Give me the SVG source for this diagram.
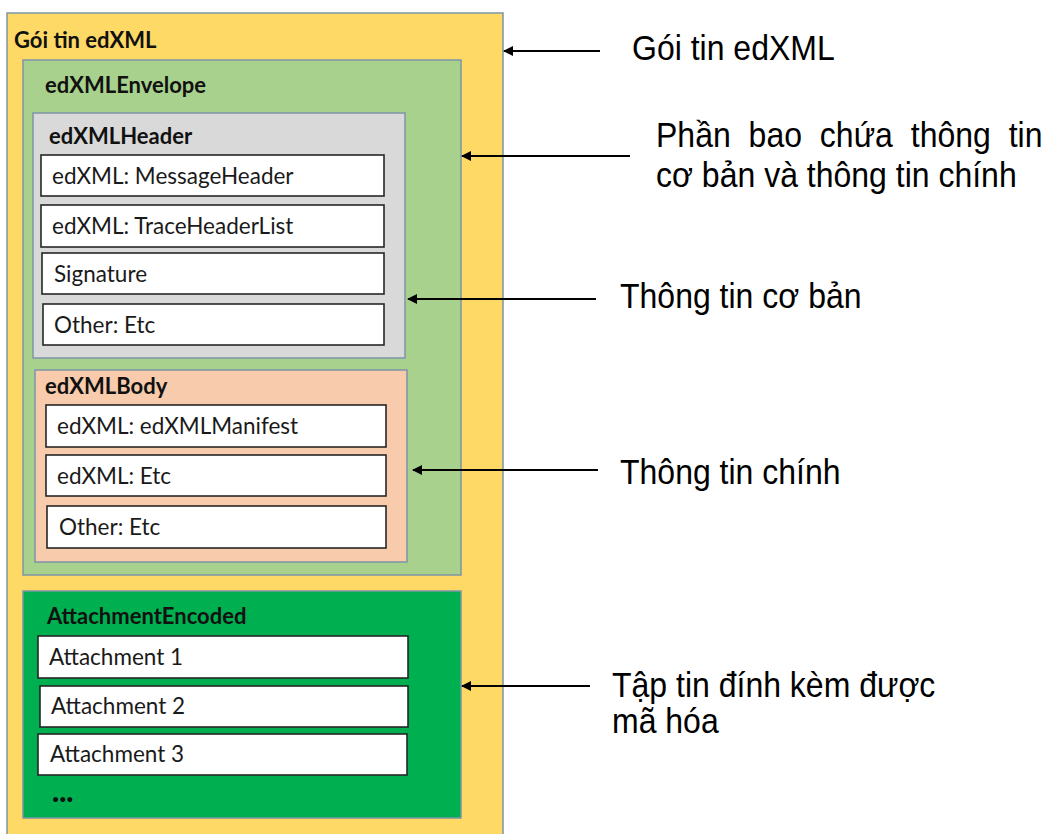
<svg xmlns="http://www.w3.org/2000/svg" width="1043" height="834" viewBox="0 0 1043 834">
<defs>
<style>
.cont{stroke:#7d95a6;stroke-width:1.5}
.item{fill:#ffffff;stroke:#262626;stroke-width:1.6}
.title{font-family:Lato,"Open Sans",sans-serif;font-weight:bold;font-size:22px;fill:#111}
.lbl{font-family:Lato,"Open Sans",sans-serif;font-size:22.5px;fill:#1a1a1a}
.note{font-family:"Liberation Sans",Arial,sans-serif;font-size:32px;fill:#000}
.conn{stroke:#000;stroke-width:2;fill:none;marker-end:url(#ah)}
</style>
<marker id="ah" viewBox="0 0 10 10" refX="9" refY="5" markerWidth="5" markerHeight="5" orient="auto" markerUnits="strokeWidth">
<path d="M0,0 L10,5 L0,10 Z" fill="#000"/>
</marker>
</defs>
<rect width="1043" height="834" fill="#ffffff"/>
<g id="goi-tin">
<rect class="cont" x="7" y="13" width="496" height="824" fill="#ffd966"/>
<text class="title" x="14" y="48">Gói tin edXML</text>
</g>
<g id="envelope">
<rect class="cont" x="23" y="60" width="438" height="515" fill="#a9d18e"/>
<text class="title" x="45" y="93">edXMLEnvelope</text>
</g>
<g id="header">
<rect class="cont" x="33" y="113" width="372" height="245" fill="#d9d9d9"/>
<text class="title" x="49" y="144">edXMLHeader</text>
</g>
<g id="h-msg"><rect class="item" x="41" y="155" width="343" height="41"/><text class="lbl" x="52" y="184">edXML: MessageHeader</text></g>
<g id="h-trace"><rect class="item" x="41" y="205" width="343" height="42"/><text class="lbl" x="52" y="234">edXML: TraceHeaderList</text></g>
<g id="h-sig"><rect class="item" x="42" y="253" width="342" height="41"/><text class="lbl" x="54" y="282">Signature</text></g>
<g id="h-other"><rect class="item" x="43" y="304" width="341" height="41"/><text class="lbl" x="54" y="333">Other: Etc</text></g>
<g id="body">
<rect class="cont" x="35" y="370" width="372" height="192" fill="#f8cbad"/>
<text class="title" x="45" y="394">edXMLBody</text>
</g>
<g id="b-manifest"><rect class="item" x="46" y="405" width="340" height="42"/><text class="lbl" x="57" y="434">edXML: edXMLManifest</text></g>
<g id="b-etc"><rect class="item" x="46" y="455" width="340" height="41"/><text class="lbl" x="57" y="484">edXML: Etc</text></g>
<g id="b-other"><rect class="item" x="47" y="506" width="339" height="42"/><text class="lbl" x="59" y="535">Other: Etc</text></g>
<g id="attach">
<rect class="cont" x="23" y="591" width="438" height="227" fill="#00b050"/>
<text class="title" x="47" y="624">AttachmentEncoded</text>
<text class="title" x="52" y="802" style="font-size:30px;font-weight:900">...</text>
</g>
<g id="a1"><rect class="item" x="38" y="636" width="370" height="42"/><text class="lbl" x="49" y="665">Attachment 1</text></g>
<g id="a2"><rect class="item" x="40" y="686" width="368" height="41"/><text class="lbl" x="51" y="714">Attachment 2</text></g>
<g id="a3"><rect class="item" x="38" y="734" width="369" height="41"/><text class="lbl" x="50" y="762">Attachment 3</text></g>
<g id="connectors">
<line class="conn" x1="600" y1="51" x2="504" y2="51"/>
<line class="conn" x1="630" y1="156" x2="462" y2="156"/>
<line class="conn" x1="596" y1="299" x2="408" y2="299"/>
<line class="conn" x1="598" y1="470" x2="413" y2="470"/>
<line class="conn" x1="590" y1="686" x2="462" y2="686"/>
</g>
<g id="notes">
<text class="note" transform="translate(632,60) scale(1,1.08)">Gói tin edXML</text>
<text class="note" transform="translate(656,147) scale(1,1.08)" word-spacing="9">Phần bao chứa thông tin</text>
<text class="note" transform="translate(656,187) scale(1,1.08)">cơ bản và thông tin chính</text>
<text class="note" transform="translate(620,308) scale(1,1.08)">Thông tin cơ bản</text>
<text class="note" transform="translate(620,484) scale(1,1.08)">Thông tin chính</text>
<text class="note" transform="translate(612,697) scale(1,1.08)">Tập tin đính kèm được</text>
<text class="note" transform="translate(612,733) scale(1,1.08)">mã hóa</text>
</g>
</svg>
